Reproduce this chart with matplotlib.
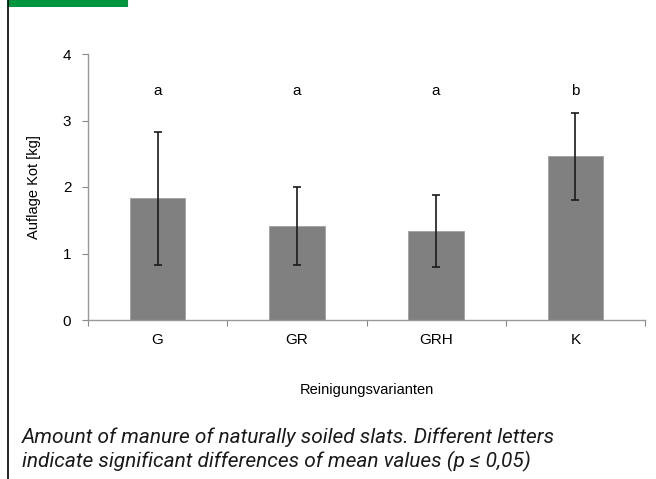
import matplotlib
matplotlib.use("Agg")
import matplotlib.pyplot as plt
from matplotlib.patches import Rectangle
from matplotlib.lines import Line2D

# data
varianten = ["G", "GR", "GRH", "K"]
mittelwert = [1.83, 1.41, 1.34, 2.46]
fehler = [1.0, 0.59, 0.54, 0.65]
buchstaben = ["a", "a", "a", "b"]
letter_y = 3.44

plt.rcParams['font.family'] = ['Liberation Sans', 'DejaVu Sans']

fig = plt.figure(figsize=(6.56, 4.79), dpi=100)
ax = fig.add_axes([88/656, 1-320/479, (645-88)/656, (320-54)/479])

x = range(len(varianten))
ax.bar(x, mittelwert, width=0.4, color='#808080', edgecolor='#a0a0a0', linewidth=0.6, zorder=2)
ax.errorbar(x, mittelwert, yerr=fehler, fmt='none', ecolor='#1a1a1a',
            elinewidth=1.2, capsize=2.8, capthick=1.2, zorder=3)
for i, b in enumerate(buchstaben):
    ax.text(i, letter_y, b, ha='center', va='center', fontsize=11)

ax.set_xlim(-0.5, len(varianten) - 0.5)
ax.set_ylim(0, 4)
ax.set_yticks([0, 1, 2, 3, 4])
ax.set_xticks([i - 0.5 for i in range(len(varianten) + 1)])
ax.set_xticklabels([])
ax.set_xticks(list(x), minor=True)
ax.set_xticklabels(varianten, minor=True, fontsize=11)
ax.tick_params(axis='x', which='minor', length=0, pad=9)
ax.tick_params(axis='x', which='major', length=4, color='#888888', direction='out')
ax.tick_params(axis='y', length=4, color='#888888', labelsize=11, pad=8)
for s in ['top', 'right']:
    ax.spines[s].set_visible(False)
for s in ['left', 'bottom']:
    ax.spines[s].set_color('#999999')
    ax.spines[s].set_linewidth(1.0)

ax.set_ylabel("Auflage Kot [kg]", fontsize=10.5, labelpad=16)
ax.set_xlabel("Reinigungsvarianten", fontsize=10.5, labelpad=26)

# frame line and green banner
fig.add_artist(Line2D([8/656, 8/656], [0, 1], color='black', linewidth=1.2, transform=fig.transFigure))
fig.add_artist(Rectangle((8/656, 1-7/479), 120/656, 7/479, facecolor='#00963f', edgecolor='none',
                         transform=fig.transFigure))

fig.text(22/656, 1-437/479, "Amount of manure of naturally soiled slats. Different letters",
         fontsize=15, style='italic', family=['Roboto', 'DejaVu Sans'], va='center', color='#1a1a1a')
fig.text(22/656, 1-461/479, "indicate significant differences of mean values (p \u2264 0,05)",
         fontsize=15, style='italic', family=['Roboto', 'DejaVu Sans'], va='center', color='#1a1a1a')

fig.savefig("out.png", dpi=100)
